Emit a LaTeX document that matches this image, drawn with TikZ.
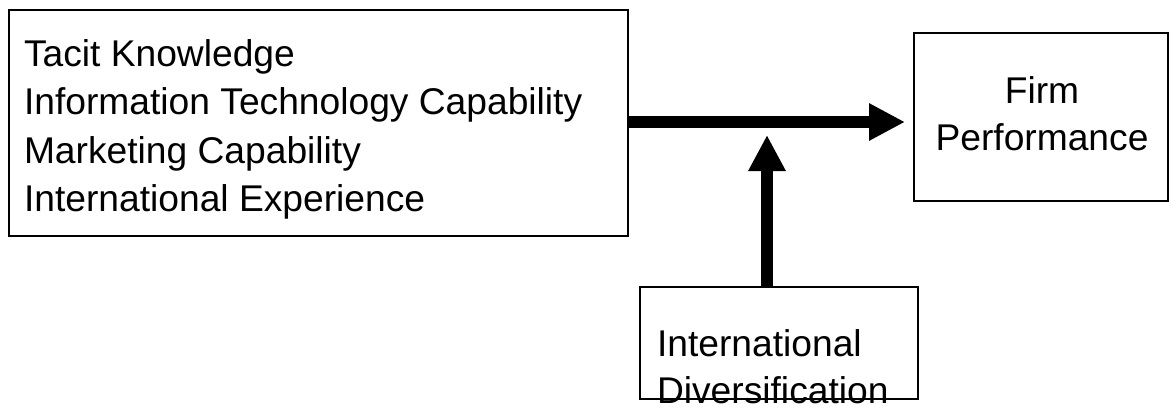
\documentclass[tikz,border=0pt]{standalone}
\usepackage{fontspec}
\setmainfont{Liberation Sans}
\usetikzlibrary{arrows.meta}
\tikzset{
  box/.style={draw=black, line width=1.6pt, fill=none, inner sep=0pt, outer sep=0pt},
  lbl/.style={inner sep=0pt, outer sep=0pt, font=\fontsize{37.2}{48}\selectfont},
  bigarrow/.style={line width=11.5pt, -{Triangle[length=36pt,width=35pt]}}
}
\begin{document}
\begin{tikzpicture}[x=1pt,y=-1pt]
\useasboundingbox (0,0) rectangle (1170,408);
% boxes
\node[box, minimum width=619pt, minimum height=226pt] (left) at (318.5,123) {};
\node[box, minimum width=254pt, minimum height=168pt] (firm) at (1041,117) {};
\node[box, minimum width=278pt, minimum height=112pt] (div) at (779,343) {};
% texts
\node[lbl, anchor=base west] (t1) at (24,66) {Tacit Knowledge};
\node[lbl, anchor=base west] (t2) at (24,114.5) {Information Technology Capability};
\node[lbl, anchor=base west] (t3) at (24,163) {Marketing Capability};
\node[lbl, anchor=base west] (t4) at (24,211) {International Experience};
\node[lbl, anchor=base] (f1) at (1042,103) {Firm};
\node[lbl, anchor=base] (f2) at (1042,150) {Performance};
\node[lbl, anchor=base west] (d1) at (657,356) {International};
\node[lbl, anchor=base west] (d2) at (657,403) {Diversification};
% arrows
\coordinate (vtip) at (767,135);
\draw[bigarrow, shorten >=9pt] ([yshift=1pt]left.east) -- ([yshift=1pt]left.east -| firm.west);
\draw[bigarrow] (div.north -| vtip) -- (vtip);
\end{tikzpicture}
\end{document}
